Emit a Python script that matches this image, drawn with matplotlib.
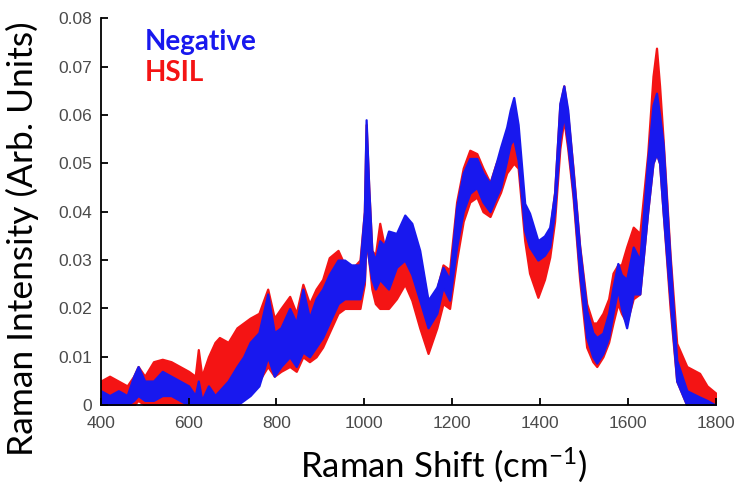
import matplotlib
matplotlib.use("Agg")
import matplotlib.pyplot as plt

plt.rcParams["mathtext.fontset"] = "custom"
plt.rcParams["mathtext.rm"] = "Lato"
plt.rcParams["mathtext.it"] = "Lato"

# Raman shift grid (cm^-1)
shift = [400, 420, 440, 460, 475, 485, 500, 520, 540, 560, 580, 600, 615, 622, 630, 645,
         660, 670, 690, 710, 725, 740, 760, 780, 795, 810, 830, 845, 860, 875, 890, 905,
         920, 940, 955, 970, 990, 1000, 1004, 1010, 1017, 1025, 1035, 1045, 1055, 1073,
         1092, 1108, 1126, 1145, 1165, 1179, 1194, 1210, 1225, 1240, 1256, 1270, 1286,
         1300, 1310, 1324, 1332, 1340, 1350, 1365, 1376, 1395, 1410, 1422, 1433, 1445,
         1454, 1463, 1475, 1490, 1506, 1520, 1529, 1543, 1556, 1566, 1577, 1585, 1597,
         1612, 1627, 1645, 1657, 1665, 1672, 1680, 1696, 1711, 1734, 1763, 1780, 1800]

# Negative group: lower / upper envelope of the spectra
neg_low = [0.000, 0.000, 0.000, 0.000, 0.001, 0.002, 0.001, 0.001, 0.002, 0.002, 0.001, 0.000,
           0.000, 0.000, 0.000, 0.000, 0.000, 0.000, 0.000, 0.000, 0.001, 0.002, 0.004, 0.010,
           0.006, 0.008, 0.010, 0.008, 0.011, 0.010, 0.012, 0.014, 0.017, 0.021, 0.022, 0.022,
           0.022, 0.026, 0.035, 0.030, 0.026, 0.024, 0.026, 0.025, 0.024, 0.0285, 0.030, 0.027,
           0.0217, 0.016, 0.019, 0.0244, 0.0217, 0.0327, 0.040, 0.0438, 0.045, 0.042, 0.040,
           0.043, 0.045, 0.0506, 0.054, 0.055, 0.0506, 0.036, 0.0327, 0.030, 0.031, 0.0327,
           0.040, 0.055, 0.060, 0.054, 0.044, 0.0273, 0.014, 0.010, 0.0087, 0.0107, 0.014,
           0.019, 0.024, 0.020, 0.016, 0.023, 0.023, 0.040, 0.050, 0.052, 0.050, 0.040, 0.0217,
           0.005, 0.000, 0.000, 0.000, 0.000]
neg_high = [0.003, 0.002, 0.003, 0.002, 0.006, 0.008, 0.005, 0.005, 0.007, 0.006, 0.005, 0.004,
            0.002, 0.005, 0.001, 0.004, 0.002, 0.003, 0.005, 0.008, 0.010, 0.013, 0.015, 0.023,
            0.015, 0.016, 0.020, 0.017, 0.024, 0.018, 0.022, 0.024, 0.027, 0.030, 0.030, 0.029,
            0.029, 0.040, 0.059, 0.045, 0.032, 0.030, 0.034, 0.033, 0.036, 0.0355, 0.0393, 0.0376,
            0.032, 0.0217, 0.0244, 0.0285, 0.026, 0.041, 0.048, 0.051, 0.051, 0.048, 0.0458,
            0.050, 0.0533, 0.0575, 0.061, 0.0636, 0.058, 0.0417, 0.0397, 0.034, 0.035, 0.0368,
            0.0438, 0.0624, 0.066, 0.061, 0.0485, 0.0327, 0.0196, 0.015, 0.014, 0.0149, 0.019,
            0.0244, 0.0293, 0.027, 0.026, 0.0327, 0.030, 0.0506, 0.062, 0.0645, 0.060, 0.054,
            0.030, 0.0093, 0.003, 0.0017, 0.001, 0.000]

# HSIL group: lower / upper envelope of the spectra
hsil_low = [0.000, 0.000, 0.000, 0.000, 0.000, 0.001, 0.000, 0.000, 0.000, 0.000, 0.000, 0.000,
            0.000, 0.000, 0.000, 0.000, 0.000, 0.000, 0.000, 0.001, 0.002, 0.003, 0.005, 0.008,
            0.006, 0.007, 0.008, 0.007, 0.010, 0.009, 0.010, 0.012, 0.015, 0.019, 0.020, 0.020,
            0.020, 0.025, 0.034, 0.030, 0.024, 0.021, 0.020, 0.020, 0.020, 0.022, 0.025, 0.0217,
            0.016, 0.0107, 0.016, 0.021, 0.020, 0.030, 0.038, 0.042, 0.043, 0.040, 0.039, 0.042,
            0.044, 0.048, 0.049, 0.050, 0.049, 0.034, 0.0273, 0.0223, 0.026, 0.0306, 0.038, 0.053,
            0.059, 0.053, 0.043, 0.026, 0.012, 0.009, 0.008, 0.010, 0.013, 0.017, 0.021, 0.019,
            0.017, 0.022, 0.023, 0.040, 0.050, 0.052, 0.050, 0.040, 0.020, 0.005, 0.000, 0.000,
            0.000, 0.000]
hsil_high = [0.005, 0.006, 0.005, 0.004, 0.006, 0.008, 0.006, 0.009, 0.0095, 0.009, 0.008, 0.007,
             0.006, 0.0115, 0.006, 0.010, 0.013, 0.014, 0.013, 0.016, 0.017, 0.018, 0.019, 0.024,
             0.018, 0.020, 0.0225, 0.019, 0.025, 0.021, 0.024, 0.026, 0.0305, 0.032, 0.029, 0.028,
             0.030, 0.040, 0.058, 0.045, 0.032, 0.031, 0.0376, 0.033, 0.034, 0.034, 0.039, 0.037,
             0.031, 0.021, 0.024, 0.029, 0.028, 0.042, 0.049, 0.0527, 0.052, 0.049, 0.046, 0.050,
             0.052, 0.055, 0.057, 0.058, 0.055, 0.040, 0.038, 0.032, 0.034, 0.036, 0.044, 0.062,
             0.066, 0.060, 0.049, 0.033, 0.021, 0.017, 0.017, 0.019, 0.022, 0.0273, 0.029, 0.029,
             0.0327, 0.0368, 0.0355, 0.052, 0.068, 0.0738, 0.066, 0.055, 0.031, 0.0128, 0.008,
             0.0066, 0.004, 0.0025]

x_ticks = [400, 600, 800, 1000, 1200, 1400, 1600, 1800]
y_ticks = [0, 0.01, 0.02, 0.03, 0.04, 0.05, 0.06, 0.07, 0.08]
y_tick_labels = ["0", "0.01", "0.02", "0.03", "0.04", "0.05", "0.06", "0.07", "0.08"]

RED = "#F41414"
BLUE = "#1818EE"

fig = plt.figure(figsize=(7.41, 4.90), dpi=100)
ax = fig.add_axes([0.136, 0.173, 0.830, 0.790])

ax.fill_between(shift, hsil_low, hsil_high, color=RED, linewidth=1.6, edgecolor=RED)
ax.fill_between(shift, neg_low, neg_high, color=BLUE, linewidth=1.6, edgecolor=BLUE)

ax.set_xlim(400, 1800)
ax.set_ylim(0, 0.08)
ax.set_xticks(x_ticks)
ax.set_xticklabels([str(t) for t in x_ticks])
ax.set_yticks(y_ticks)
ax.set_yticklabels(y_tick_labels)

for s in ["top", "right"]:
    ax.spines[s].set_visible(False)
for s in ["left", "bottom"]:
    ax.spines[s].set_linewidth(1.3)
    ax.spines[s].set_color("black")

ax.tick_params(direction="in", length=5, width=1.3, labelsize=12.5, colors="black")
ax.tick_params(axis="x", pad=8)
ax.tick_params(axis="y", pad=6)
for lab in ax.get_xticklabels() + ax.get_yticklabels():
    lab.set_family("Liberation Sans")
    lab.set_color("#4a4a4a")

ax.set_xlabel("Raman Shift (cm$^{\\mathrm{-1}}$)", fontsize=25, family="Lato")
ax.xaxis.set_label_coords(0.557, -0.155)
ax.xaxis.label.set_va("center")
ax.set_ylabel("Raman Intensity (Arb. Units)", fontsize=25.5, family="Lato")
ax.yaxis.set_label_coords(-0.128, 0.429)
ax.yaxis.label.set_va("center")

ax.text(0.072, 0.938, "Negative", transform=ax.transAxes, color=BLUE, fontsize=20,
        fontweight="bold", family="Lato", va="center", ha="left")
ax.text(0.072, 0.858, "HSIL", transform=ax.transAxes, color=RED, fontsize=20,
        fontweight="bold", family="Lato", va="center", ha="left")

fig.savefig("out.png", dpi=100)
